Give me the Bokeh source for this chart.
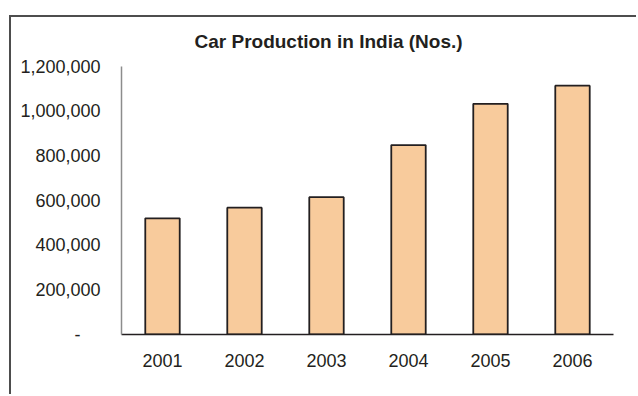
from bokeh.plotting import figure
from bokeh.models import FixedTicker, NumeralTickFormatter, Range1d
from bokeh.embed import file_html
from bokeh.resources import INLINE

# Car production in India, units per year
years = ["2001", "2002", "2003", "2004", "2005", "2006"]
production = [520000, 568000, 615000, 848000, 1033000, 1114000]
y_ticks = [0, 200000, 400000, 600000, 800000, 1000000, 1200000]

TEXT = "#231f20"
FONT = "Liberation Sans"

p = figure(
    x_range=years,
    y_range=Range1d(0, 1200000),
    width=627,
    height=379,
    output_backend="svg",
    toolbar_location=None,
    title="Car Production in India (Nos.)",
    min_border_left=110,
    min_border_right=25,
    min_border_top=49,
    min_border_bottom=62,
)
p.margin = (15, 0, 0, 9)
p.styles = {
    "border-top": "2px solid #4d4d4d",
    "border-left": "2px solid #4d4d4d",
}

p.vbar(x=years, top=production, width=0.42,
       fill_color="#f8cb9c", line_color="#231f20", line_width=1.8)

# title sits centred over the whole chart box, not just the plot frame
p.title.align = "left"
p.title.offset = 73
p.title.vertical_align = "top"
p.title.standoff = 25
p.title.text_font = FONT
p.title.text_font_size = "19px"
p.title.text_font_style = "bold"
p.title.text_color = TEXT

p.grid.visible = False
p.outline_line_color = None
p.background_fill_color = "white"
p.border_fill_color = "white"

ya = p.yaxis[0]
ya.ticker = FixedTicker(ticks=y_ticks)
ya.formatter = NumeralTickFormatter(format="0,0")
ya.major_label_overrides = {0: "-\u00a0\u00a0\u00a0\u00a0"}
ya.axis_line_color = "#8c8c8c"
ya.axis_line_width = 1.5
ya.major_tick_line_color = None
ya.minor_tick_line_color = None
ya.major_tick_in = 0
ya.major_tick_out = 0
ya.major_label_standoff = 21
ya.major_label_text_font = FONT
ya.major_label_text_font_size = "18px"
ya.major_label_text_color = TEXT

xa = p.xaxis[0]
xa.axis_line_color = "#231f20"
xa.axis_line_width = 1.5
xa.major_tick_line_color = None
xa.major_tick_in = 0
xa.major_tick_out = 0
xa.major_label_standoff = 19
xa.major_label_text_font = FONT
xa.major_label_text_font_size = "18px"
xa.major_label_text_color = TEXT

p.x_range.range_padding = 0

open("out.html", "w").write(file_html(p, INLINE))
